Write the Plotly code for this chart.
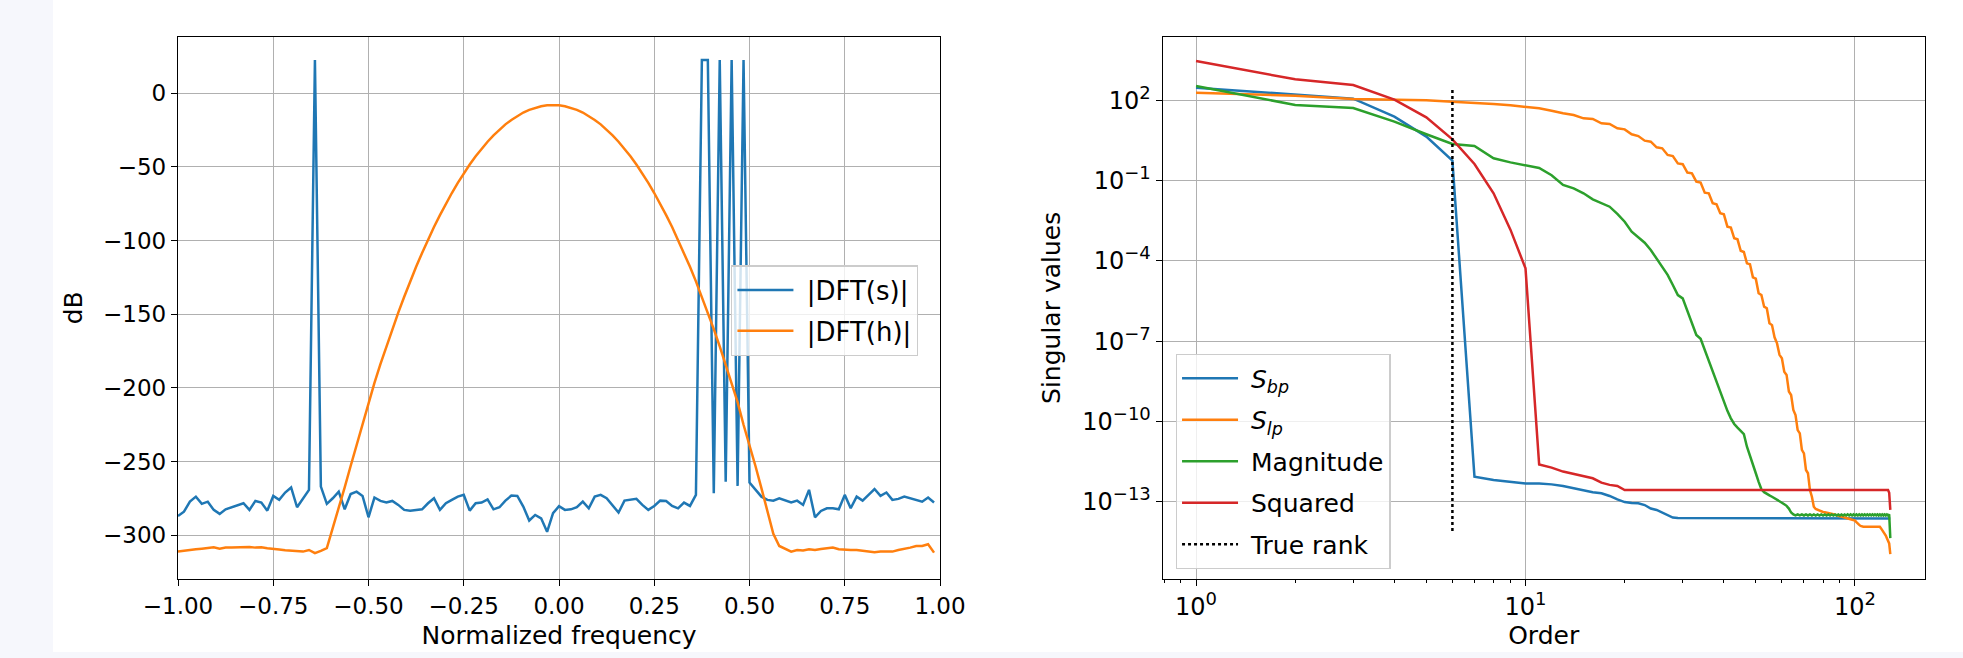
import plotly.graph_objects as go

# ---------------- left panel data ----------------
freq = [k / 64 for k in range(-64, 64)]  # normalized frequency bins (-1 ... 63/64)

dft_s_db = [
    -286.9, -284.0, -277.2, -273.8, -278.7, -277.2, -282.8, -285.5, -282.4, -281.0,
    -280.1, -278.3, -282.8, -276.7, -277.8, -283.3, -273.3, -276.0, -271.0, -267.6,
    -281.0, -274.9, -269.2, 22.5, -267.0, -278.7, -274.9, -270.4, -282.4, -272.0,
    -270.4, -273.3, -287.8, -274.4, -276.7, -277.8, -276.7, -279.4, -282.8, -283.3,
    -282.8, -282.4, -278.3, -274.9, -282.8, -278.3, -276.0, -273.8, -272.6, -283.3,
    -278.3, -277.8, -275.6, -282.4, -281.0, -276.5, -273.1, -273.3, -280.5, -290.0,
    -286.2, -288.5, -297.7, -285.0, -280.3, -282.8, -282.4, -281.0, -277.2, -281.7,
    -273.8, -272.6, -274.9, -279.4, -284.6, -276.5, -276.0, -275.3, -279.4, -282.8,
    -280.1, -276.5, -276.7, -280.1, -281.7, -277.8, -280.1, -272.6, 22.5, 22.5,
    -271.5, 22.5, -263.6, 22.5, -266.5, 22.5, -264.3, -268.8, -273.8, -276.0,
    -276.5, -274.9, -276.5, -277.8, -276.5, -279.4, -269.2, -287.8, -283.5, -281.7,
    -281.7, -282.4, -272.6, -281.7, -273.8, -276.5, -272.6, -268.6, -273.3, -271.0,
    -276.0, -275.3, -273.8, -274.9, -276.0, -277.2, -274.4, -277.8,
]

dft_h_db = [
    -311.1, -310.4, -310.0, -309.5, -309.1, -308.6, -308.2, -309.1, -308.4, -308.4,
    -308.2, -307.9, -307.9, -308.4, -308.2, -308.8, -309.5, -309.7, -310.2, -310.6,
    -311.1, -311.1, -310.0, -312.2, -310.6, -308.8, -295.0, -282.0, -267.5, -253.0,
    -239.0, -225.0, -209.6, -196.6, -183.9, -171.8, -160.1, -148.9, -138.1, -127.7,
    -117.8, -108.4, -99.4, -90.8, -82.7, -74.9, -67.7, -60.8, -54.4, -48.4,
    -42.8, -37.6, -32.9, -28.6, -24.6, -21.1, -18.1, -15.4, -13.1, -11.3,
    -9.8, -8.8, -8.2, -8.0, -8.2, -8.8, -9.8, -11.3, -13.1, -15.4,
    -18.1, -21.1, -24.6, -28.6, -32.9, -37.6, -42.8, -48.4, -54.4, -60.8,
    -67.7, -74.9, -82.7, -90.8, -99.4, -108.4, -117.8, -127.7, -138.1, -148.9,
    -160.1, -171.8, -183.9, -196.6, -209.6, -225.0, -238.5, -253.0, -268.0, -283.0,
    -299.0, -307.3, -309.3, -311.1, -310.0, -310.4, -309.5, -310.0, -309.3, -308.8,
    -308.4, -309.5, -310.0, -310.0, -310.0, -310.4, -310.9, -311.6, -311.1, -310.9,
    -311.1, -310.0, -309.3, -308.4, -307.3, -307.3, -306.1, -311.8,
]

# ---------------- right panel data ----------------
order = list(range(1, 129))

s_bp = [
    2.96e2, 1.63e2, 1.15e2, 2.45e1, 4.4e0, 5.6e-1, 8.7e-13, 6.6e-13, 5.6e-13, 4.9e-13,
    4.8e-13, 4.5e-13, 3.9e-13, 3.2e-13, 2.6e-13, 2.3e-13, 2.1e-13, 1.66e-13, 1.23e-13, 9.8e-14,
    9.1e-14, 8.9e-14, 7.6e-14, 5.6e-14, 5.0e-14, 4.0e-14, 3.2e-14, 2.6e-14, 2.5e-14, 2.5e-14,
    2.5e-14, 2.5e-14, 2.5e-14, 2.5e-14, 2.5e-14, 2.5e-14, 2.5e-14, 2.5e-14, 2.5e-14, 2.5e-14,
    2.5e-14, 2.5e-14, 2.5e-14, 2.5e-14, 2.5e-14, 2.5e-14, 2.5e-14, 2.5e-14, 2.5e-14, 2.5e-14,
    2.5e-14, 2.5e-14, 2.5e-14, 2.5e-14, 2.5e-14, 2.5e-14, 2.5e-14, 2.5e-14, 2.5e-14, 2.5e-14,
    2.5e-14, 2.5e-14, 2.5e-14, 2.5e-14, 2.5e-14, 2.5e-14, 2.5e-14, 2.5e-14, 2.5e-14, 2.5e-14,
    2.5e-14, 2.5e-14, 2.5e-14, 2.5e-14, 2.5e-14, 2.5e-14, 2.5e-14, 2.5e-14, 2.5e-14, 2.5e-14,
    2.5e-14, 2.5e-14, 2.5e-14, 2.5e-14, 2.5e-14, 2.5e-14, 2.5e-14, 2.5e-14, 2.5e-14, 2.5e-14,
    2.5e-14, 2.5e-14, 2.5e-14, 2.5e-14, 2.5e-14, 2.5e-14, 2.5e-14, 2.5e-14, 2.5e-14, 2.5e-14,
    2.5e-14, 2.5e-14, 2.5e-14, 2.5e-14, 2.5e-14, 2.5e-14, 2.5e-14, 2.5e-14, 2.5e-14, 2.5e-14,
    2.5e-14, 2.5e-14, 2.5e-14, 2.5e-14, 2.5e-14, 2.5e-14, 2.5e-14, 2.5e-14, 2.5e-14, 2.5e-14,
    2.5e-14, 2.5e-14, 2.5e-14, 2.5e-14, 2.5e-14, 2.5e-14, 2.5e-14, 2.4e-14,
]

s_lp = [
    1.93e2, 1.49e2, 1.12e2, 1.06e2, 9.98e1, 8.9e1, 8.2e1, 7.3e1, 6.5e1, 5.6e1,
    5.0e1, 4.1e1, 3.26e1, 2.82e1, 2.12e1, 2.0e1, 1.38e1, 1.30e1, 9.0e0, 8.2e0,
    5.4e0, 4.6e0, 3.1e0, 2.85e0, 1.75e0, 1.61e0, 9.1e-1, 8.3e-1, 4.4e-1, 4.1e-1,
    2.0e-1, 1.87e-1, 9.1e-2, 8.4e-2, 3.55e-2, 3.35e-2, 1.42e-2, 1.30e-2, 6.0e-3, 5.5e-3,
    1.9e-3, 1.75e-3, 7.0e-4, 6.4e-4, 2.4e-4, 2.15e-4, 8.1e-5, 7.5e-5, 2.44e-5, 2.17e-5,
    6.2e-6, 5.3e-6, 1.95e-6, 1.7e-6, 4.7e-7, 4.0e-7, 1.4e-7, 8.3e-8, 3.1e-8, 2.3e-8,
    7.2e-9, 5.5e-9, 1.32e-9, 9.8e-10, 2.7e-10, 1.74e-10, 4.8e-11, 3.6e-11, 8.7e-12, 6.5e-12,
    1.55e-12, 1.17e-12, 2.75e-13, 1.55e-13, 6.6e-14, 5.4e-14, 5.0e-14, 4.6e-14, 4.4e-14, 4.2e-14,
    4.1e-14, 4.0e-14, 3.8e-14, 3.7e-14, 3.55e-14, 3.45e-14, 3.3e-14, 3.2e-14, 3.1e-14, 2.95e-14,
    2.8e-14, 2.7e-14, 2.6e-14, 2.5e-14, 2.4e-14, 2.3e-14, 2.2e-14, 2.1e-14, 2.0e-14, 2.0e-14,
    1.74e-14, 1.5e-14, 1.38e-14, 1.26e-14, 1.17e-14, 1.17e-14, 1.17e-14, 1.17e-14, 1.17e-14, 1.17e-14,
    1.17e-14, 1.17e-14, 1.17e-14, 1.17e-14, 1.17e-14, 1.17e-14, 1.17e-14, 1.17e-14, 1.17e-14, 1.02e-14,
    8.9e-15, 7.8e-15, 6.6e-15, 5.5e-15, 4.4e-15, 3.5e-15, 2.8e-15, 1.12e-15,
]

s_magnitude = [
    3.42e2, 6.7e1, 5.15e1, 1.59e1, 5.4e0, 2.33e0, 1.96e0, 6.8e-1, 4.8e-1, 3.6e-1,
    2.96e-1, 1.58e-1, 6.9e-2, 5.1e-2, 3.35e-2, 2.0e-2, 1.42e-2, 1.06e-2, 5.7e-3, 2.9e-3,
    1.24e-3, 7.6e-4, 4.8e-4, 2.56e-4, 1.25e-4, 6.5e-5, 3.0e-5, 1.26e-5, 5.3e-6, 4.0e-6,
    1.27e-6, 4.7e-7, 1.71e-7, 1.23e-7, 4.7e-8, 1.86e-8, 6.8e-9, 3.0e-9, 1.32e-9, 5.5e-10,
    2.5e-10, 1.32e-10, 8.1e-11, 5.9e-11, 4.6e-11, 3.4e-11, 1.15e-11, 5.6e-12, 2.75e-12, 1.17e-12,
    5.6e-13, 2.95e-13, 2.3e-13, 1.95e-13, 1.74e-13, 1.55e-13, 1.38e-13, 1.23e-13, 1.1e-13, 9.3e-14,
    8.1e-14, 7.1e-14, 5.6e-14, 4.0e-14, 3.4e-14, 3.1e-14, 3.4e-14, 3.1e-14, 3.4e-14, 3.1e-14,
    3.4e-14, 3.1e-14, 3.4e-14, 3.1e-14, 3.4e-14, 3.1e-14, 3.4e-14, 3.1e-14, 3.4e-14, 3.1e-14,
    3.4e-14, 3.1e-14, 3.4e-14, 3.1e-14, 3.4e-14, 3.1e-14, 3.4e-14, 3.1e-14, 3.4e-14, 3.1e-14,
    3.4e-14, 3.1e-14, 3.4e-14, 3.1e-14, 3.4e-14, 3.1e-14, 3.4e-14, 3.1e-14, 3.4e-14, 3.1e-14,
    3.4e-14, 3.1e-14, 3.4e-14, 3.1e-14, 3.4e-14, 3.1e-14, 3.4e-14, 3.1e-14, 3.4e-14, 3.1e-14,
    3.4e-14, 3.1e-14, 3.4e-14, 3.1e-14, 3.4e-14, 3.1e-14, 3.4e-14, 3.1e-14, 3.4e-14, 3.1e-14,
    3.4e-14, 3.1e-14, 3.4e-14, 3.1e-14, 3.4e-14, 3.1e-14, 3.4e-14, 4.4e-15,
]

s_squared = [
    2.94e3, 6.07e2, 3.73e2, 1.06e2, 2.31e1, 3.48e0, 4.17e-1, 3.35e-2, 1.47e-3, 5.3e-5,
    2.5e-12, 1.9e-12, 1.35e-12, 1.1e-12, 8.7e-13, 7.6e-13, 5.2e-13, 4.3e-13, 3.9e-13, 2.75e-13,
    2.75e-13, 2.75e-13, 2.75e-13, 2.75e-13, 2.75e-13, 2.75e-13, 2.75e-13, 2.75e-13, 2.75e-13, 2.75e-13,
    2.75e-13, 2.75e-13, 2.75e-13, 2.75e-13, 2.75e-13, 2.75e-13, 2.75e-13, 2.75e-13, 2.75e-13, 2.75e-13,
    2.75e-13, 2.75e-13, 2.75e-13, 2.75e-13, 2.75e-13, 2.75e-13, 2.75e-13, 2.75e-13, 2.75e-13, 2.75e-13,
    2.75e-13, 2.75e-13, 2.75e-13, 2.75e-13, 2.75e-13, 2.75e-13, 2.75e-13, 2.75e-13, 2.75e-13, 2.75e-13,
    2.75e-13, 2.75e-13, 2.75e-13, 2.75e-13, 2.75e-13, 2.75e-13, 2.75e-13, 2.75e-13, 2.75e-13, 2.75e-13,
    2.75e-13, 2.75e-13, 2.75e-13, 2.75e-13, 2.75e-13, 2.75e-13, 2.75e-13, 2.75e-13, 2.75e-13, 2.75e-13,
    2.75e-13, 2.75e-13, 2.75e-13, 2.75e-13, 2.75e-13, 2.75e-13, 2.75e-13, 2.75e-13, 2.75e-13, 2.75e-13,
    2.75e-13, 2.75e-13, 2.75e-13, 2.75e-13, 2.75e-13, 2.75e-13, 2.75e-13, 2.75e-13, 2.75e-13, 2.75e-13,
    2.75e-13, 2.75e-13, 2.75e-13, 2.75e-13, 2.75e-13, 2.75e-13, 2.75e-13, 2.75e-13, 2.75e-13, 2.75e-13,
    2.75e-13, 2.75e-13, 2.75e-13, 2.75e-13, 2.75e-13, 2.75e-13, 2.75e-13, 2.75e-13, 2.75e-13, 2.75e-13,
    2.75e-13, 2.75e-13, 2.75e-13, 2.75e-13, 2.75e-13, 2.75e-13, 2.2e-13, 5.0e-14,
]

true_rank = 6
true_rank_span = [8.1e-15, 2.64e2]

left_xticks = [-1.0, -0.75, -0.5, -0.25, 0.0, 0.25, 0.5, 0.75, 1.0]
left_xticklabels = ["\u22121.00", "\u22120.75", "\u22120.50", "\u22120.25", "0.00", "0.25", "0.50", "0.75", "1.00"]
left_yticks = [0, -50, -100, -150, -200, -250, -300]
left_yticklabels = ["0", "\u221250", "\u2212100", "\u2212150", "\u2212200", "\u2212250", "\u2212300"]
right_xticks = [1, 10, 100]
right_xexponents = ["0", "1", "2"]
right_xminor = [0.8, 0.9, 2, 3, 4, 5, 6, 7, 8, 9, 20, 30, 40, 50, 60, 70, 80, 90]
right_yticks = [1e2, 1e-1, 1e-4, 1e-7, 1e-10, 1e-13]
right_yexponents = ["2", "\u22121", "\u22124", "\u22127", "\u221210", "\u221213"]


def pow10_label(exp):
    return "10<sup><span style='font-size:18px'>" + exp + "</span></sup>"


right_xticklabels = [pow10_label(e) for e in right_xexponents]
right_yticklabels = [pow10_label(e) for e in right_yexponents]

BLUE, ORANGE, GREEN, RED = "#1f77b4", "#ff7f0e", "#2ca02c", "#d62728"
FONT = "DejaVu Sans"
LW = 2.5
PAD = "\u00a0"  # small gap between legend line sample and label

fig = go.Figure()

fig.add_trace(go.Scatter(x=freq, y=dft_s_db, mode="lines", name=PAD + "|DFT(s)|",
                         line=dict(color=BLUE, width=LW), xaxis="x", yaxis="y",
                         legend="legend", legendgroup="a"))
fig.add_trace(go.Scatter(x=freq, y=dft_h_db, mode="lines", name=PAD + "|DFT(h)|",
                         line=dict(color=ORANGE, width=LW), xaxis="x", yaxis="y",
                         legend="legend", legendgroup="b"))

for ys, nm, col, grp in [(s_bp, "<i>S<sub>bp</sub></i>", BLUE, "c"),
                         (s_lp, "<i>S<sub>lp</sub></i>", ORANGE, "d"),
                         (s_magnitude, "Magnitude", GREEN, "e"),
                         (s_squared, "Squared", RED, "f")]:
    fig.add_trace(go.Scatter(x=order, y=ys, mode="lines", name=PAD + nm,
                             line=dict(color=col, width=LW), xaxis="x2", yaxis="y2",
                             legend="legend2", legendgroup=grp))
fig.add_trace(go.Scatter(x=[true_rank, true_rank], y=true_rank_span, mode="lines", name=PAD + "True rank",
                         line=dict(color="black", width=LW, dash="dot"), xaxis="x2", yaxis="y2",
                         legend="legend2", legendgroup="g"))

axis_common = dict(showline=True, linecolor="black", linewidth=1.4, mirror=True,
                   ticks="outside", ticklen=6, tickwidth=1.4, tickcolor="black",
                   showgrid=True, gridcolor="#b0b0b0", gridwidth=1.3, zeroline=False,
                   automargin=False)
tick_font = dict(family=FONT, size=23, color="black")
log_tick_font = dict(family=FONT, size=24, color="black")
title_font = dict(family=FONT, size=25, color="black")

ydom = [0.1205, 0.9438]
fig.update_layout(
    width=1963, height=658,
    margin=dict(l=0, r=0, t=0, b=0, autoexpand=False),
    paper_bgcolor="#f6f7fc", plot_bgcolor="white",
    font=dict(family=FONT, color="black"),
    xaxis=dict(domain=[0.09068, 0.47886], range=[-1, 1], tickmode="array",
               tickvals=left_xticks, ticktext=left_xticklabels, tickfont=tick_font,
               title=dict(text="Normalized frequency", font=title_font, standoff=8),
               anchor="y", **axis_common),
    yaxis=dict(domain=ydom, range=[-329.5, 38.2], tickmode="array",
               tickvals=left_yticks, ticktext=left_yticklabels, tickfont=tick_font,
               title=dict(text="dB", font=title_font, standoff=13),
               anchor="x", **axis_common),
    xaxis2=dict(domain=[0.59236, 0.98039], type="log", range=[-0.1008, 2.211], tickmode="array",
                tickvals=right_xticks, ticktext=right_xticklabels, tickfont=log_tick_font,
                minor=dict(tickmode="array", tickvals=right_xminor, ticks="outside", ticklen=3.5,
                           tickwidth=1.1, tickcolor="black", showgrid=False),
                title=dict(text="Order", font=title_font, standoff=6),
                anchor="y2", **axis_common),
    yaxis2=dict(domain=ydom, type="log", range=[-15.871, 4.365], tickmode="array",
                tickvals=right_yticks, ticktext=right_yticklabels, tickfont=log_tick_font,
                title=dict(text="Singular values", font=title_font, standoff=14),
                anchor="x2", **axis_common),
    legend=dict(x=0.3724, y=0.597, xanchor="left", yanchor="top",
                bgcolor="rgba(255,255,255,0.8)", bordercolor="#cccccc", borderwidth=1.4,
                font=dict(family=FONT, size=26, color="black"), tracegroupgap=4,
                traceorder="grouped", itemwidth=56),
    legend2=dict(x=0.5989, y=0.462, xanchor="left", yanchor="top",
                 bgcolor="rgba(255,255,255,0.8)", bordercolor="#cccccc", borderwidth=1.4,
                 font=dict(family=FONT, size=25, color="black"), tracegroupgap=6,
                 traceorder="grouped", itemwidth=56),
    shapes=[dict(type="rect", xref="paper", yref="paper", x0=0.027, x1=1.0, y0=0.0091, y1=1.0,
                 fillcolor="white", line=dict(width=0), layer="below")],
)

fig.write_html("out.html", config={"displayModeBar": False},
               post_script="document.body.style.margin='0px';document.body.style.overflow='hidden';")
